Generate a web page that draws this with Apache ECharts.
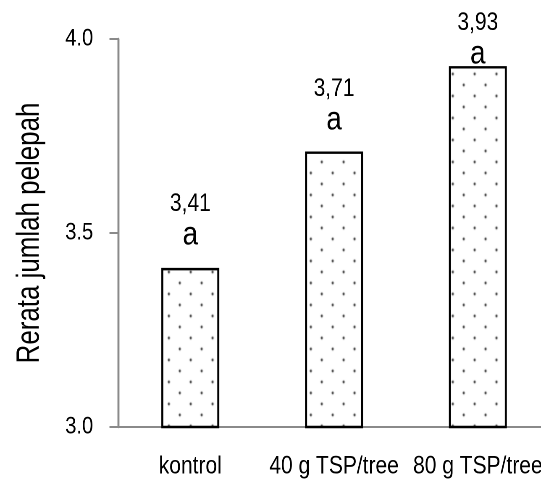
<!DOCTYPE html>
<html>
<head>
<meta charset="utf-8">
<script src="https://cdn.jsdelivr.net/npm/echarts@6/dist/echarts.min.js"></script>
<style>
  html, body { margin: 0; padding: 0; background: #fff; overflow: hidden; }
  #wrap { width: 541px; height: 482px; overflow: hidden; }
  /* Condensed look: the chart is laid out wider and squeezed horizontally */
  #chart { width: 644px; height: 482px; transform: scaleX(0.84); transform-origin: 0 0; }
</style>
</head>
<body>
<div id="wrap"><div id="chart"></div></div>
<script>
// Mean number of fronds per treatment, with significance letters
const categories = ['kontrol', '40 g TSP/tree', '80 g TSP/tree'];
const means = [3.41, 3.71, 3.93];
const letters = ['a', 'a', 'a'];
const yMin = 3.0, yMax = 4.0, yStep = 0.5;
const yTitle = 'Rerata jumlah pelepah';

// Gap (px) between each bar top and its label block
const labelGap = [14.8, 13.4, -5.9];

const SQUEEZE = 0.84;
const FONT = '"Liberation Sans", Arial, sans-serif';

// Stippled fill: staggered grey dots on white
function dotPattern() {
  const c = document.createElement('canvas');
  c.width = 26; c.height = 22;
  const g = c.getContext('2d');
  g.fillStyle = '#ffffff';
  g.fillRect(0, 0, 26, 22);
  g.fillStyle = '#4a4a4a';
  [[19, 8], [6, 19]].forEach(([x, y]) => {
    g.beginPath();
    g.arc(x, y, 1.4, 0, Math.PI * 2);
    g.fill();
  });
  return c;
}
const pattern = { image: dotPattern(), repeat: 'repeat' };

const chart = echarts.init(document.getElementById('chart'), null, { renderer: 'canvas', devicePixelRatio: 2 });

const axisGrey = '#8a8a8a';
const gridTop = 39, gridBottom = 55;

chart.setOption({
  animation: false,
  backgroundColor: '#ffffff',
  grid: { left: 141, right: -10.4, top: gridTop, bottom: gridBottom, containLabel: false, outerBoundsMode: 'none' },
  // Vertical axis title in a condensed face (narrowed along its reading direction)
  graphic: [{
    type: 'text',
    x: 35.5,
    y: gridTop + (482 - gridTop - gridBottom) / 2,
    rotation: Math.PI / 2,
    scaleX: 0.81,
    scaleY: 1 / SQUEEZE,
    style: {
      text: yTitle,
      fontFamily: FONT,
      fontSize: 32,
      fill: '#000',
      align: 'center',
      verticalAlign: 'middle'
    }
  }],
  xAxis: {
    type: 'category',
    data: categories,
    axisLine: { show: true, lineStyle: { color: axisGrey, width: 2 } },
    axisTick: { show: false },
    axisLabel: { interval: 0, color: '#000', fontFamily: FONT, fontSize: 25, margin: 27, hideOverlap: false },
    splitLine: { show: false }
  },
  yAxis: {
    type: 'value',
    min: yMin, max: yMax, interval: yStep,
    axisLine: { show: true, lineStyle: { color: axisGrey, width: 2.4 } },
    axisTick: { show: true, length: 10.7, lineStyle: { color: axisGrey, width: 2 } },
    axisLabel: {
      color: '#000', fontFamily: FONT, fontSize: 24, margin: 30,
      formatter: v => v.toFixed(1)
    },
    splitLine: { show: false }
  },
  series: [{
    type: 'bar',
    barWidth: 69,
    data: means.map((v, i) => ({
      value: v,
      label: { distance: labelGap[i] }
    })),
    itemStyle: { color: pattern, borderColor: '#000', borderWidth: 2.4 },
    label: {
      show: true,
      position: 'top',
      formatter: p => '{v|' + p.value.toFixed(2).replace('.', ',') + '}\n{g|' + letters[p.dataIndex] + '}',
      rich: {
        v: { fontFamily: FONT, fontSize: 25, lineHeight: 28, color: '#000' },
        g: { fontFamily: FONT, fontSize: 33, lineHeight: 35, color: '#000' }
      }
    }
  }]
});
</script>
</body>
</html>
